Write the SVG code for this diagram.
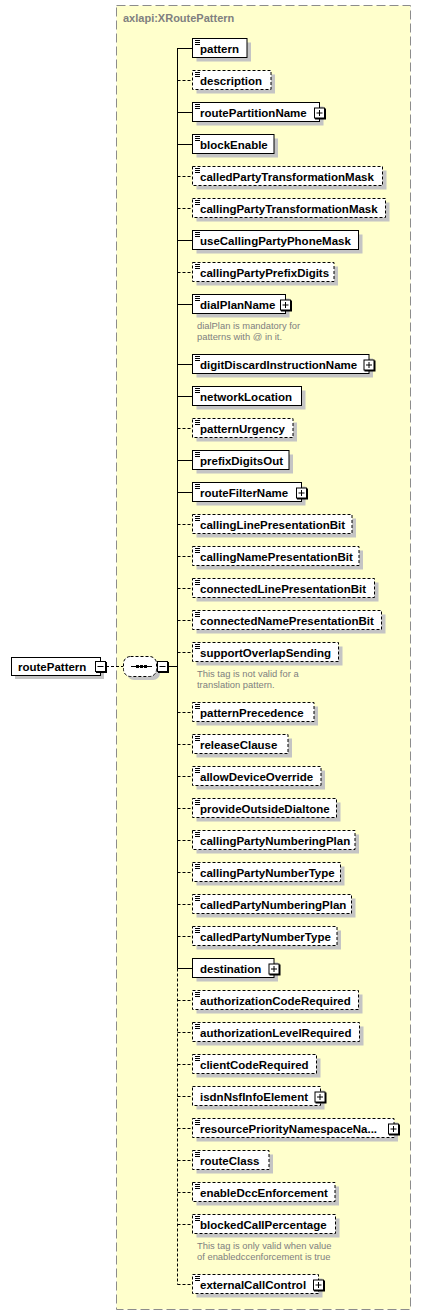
<svg xmlns="http://www.w3.org/2000/svg" width="422" height="1315" viewBox="0 0 422 1315">
<style>
.frame{fill:#ffffcc;stroke:#8c8c8c;stroke-width:1;stroke-dasharray:9,4}
.title{font-family:"Liberation Sans",Arial,sans-serif;font-weight:bold;font-size:11px;fill:#808080}
.sh{fill:#c4c4c4}
.box{fill:#ffffff;stroke:#000000;stroke-width:1}
.opt{stroke-dasharray:3,2}
.t{font-family:"Liberation Sans",Arial,sans-serif;font-weight:bold;font-size:11.5px;fill:#000000}
.ann{font-family:"Liberation Sans",Arial,sans-serif;font-size:9.4px;fill:#808080}
.ic{stroke:#000000;stroke-width:1}
.ln{stroke:#000000;stroke-width:1;fill:none}
.dl{stroke:#000000;stroke-width:1;fill:none;stroke-dasharray:3,2}
.pm{fill:#ffffff;stroke:#000000;stroke-width:1}
.pms{fill:#000000}
</style>
<defs>
<g id="icon"><line class="ic" x1="195" y1="0.5" x2="200" y2="0.5"/><line class="ic" x1="195" y1="2.5" x2="200" y2="2.5"/><line class="ic" x1="195" y1="4.5" x2="200" y2="4.5"/></g>
<g id="plus"><rect class="pms" x="1" y="1" width="11" height="11"/><rect class="pm" x="0.5" y="0.5" width="10" height="10"/><line class="ic" x1="2.5" y1="5.5" x2="8.5" y2="5.5"/><line class="ic" x1="5.5" y1="2.5" x2="5.5" y2="8.5"/></g>
<g id="minus"><rect class="pms" x="1" y="1" width="11" height="11"/><rect class="pm" x="0.5" y="0.5" width="10" height="10"/><line class="ic" x1="2.5" y1="5.5" x2="8.5" y2="5.5"/></g>
</defs>
<rect width="422" height="1315" fill="#ffffff"/>
<g id="type-frame">
<rect class="frame" x="116.5" y="5.5" width="294" height="1304"/>
<text class="title" x="123" y="22">axlapi:XRoutePattern</text>
</g>
<g id="connectors">
<line class="dl" x1="106" y1="666.5" x2="123" y2="666.5"/>
<line class="ln" x1="168" y1="666.5" x2="177.5" y2="666.5"/>
<line class="ln" x1="177.5" y1="48" x2="177.5" y2="968.5"/>
<line class="dl" x1="177.5" y1="968.5" x2="177.5" y2="1284.5"/>
<line class="ln" x1="177.5" y1="48.5" x2="192.5" y2="48.5"/>
<line class="dl" x1="177.5" y1="80.5" x2="192.5" y2="80.5"/>
<line class="ln" x1="177.5" y1="112.5" x2="192.5" y2="112.5"/>
<line class="ln" x1="177.5" y1="144.5" x2="192.5" y2="144.5"/>
<line class="dl" x1="177.5" y1="176.5" x2="192.5" y2="176.5"/>
<line class="dl" x1="177.5" y1="208.5" x2="192.5" y2="208.5"/>
<line class="ln" x1="177.5" y1="240.5" x2="192.5" y2="240.5"/>
<line class="dl" x1="177.5" y1="272.5" x2="192.5" y2="272.5"/>
<line class="ln" x1="177.5" y1="304.5" x2="192.5" y2="304.5"/>
<line class="ln" x1="177.5" y1="364.5" x2="192.5" y2="364.5"/>
<line class="ln" x1="177.5" y1="396.5" x2="192.5" y2="396.5"/>
<line class="dl" x1="177.5" y1="428.5" x2="192.5" y2="428.5"/>
<line class="ln" x1="177.5" y1="460.5" x2="192.5" y2="460.5"/>
<line class="ln" x1="177.5" y1="492.5" x2="192.5" y2="492.5"/>
<line class="dl" x1="177.5" y1="524.5" x2="192.5" y2="524.5"/>
<line class="dl" x1="177.5" y1="556.5" x2="192.5" y2="556.5"/>
<line class="dl" x1="177.5" y1="588.5" x2="192.5" y2="588.5"/>
<line class="dl" x1="177.5" y1="620.5" x2="192.5" y2="620.5"/>
<line class="dl" x1="177.5" y1="652.5" x2="192.5" y2="652.5"/>
<line class="dl" x1="177.5" y1="712.5" x2="192.5" y2="712.5"/>
<line class="dl" x1="177.5" y1="744.5" x2="192.5" y2="744.5"/>
<line class="dl" x1="177.5" y1="776.5" x2="192.5" y2="776.5"/>
<line class="dl" x1="177.5" y1="808.5" x2="192.5" y2="808.5"/>
<line class="dl" x1="177.5" y1="840.5" x2="192.5" y2="840.5"/>
<line class="dl" x1="177.5" y1="872.5" x2="192.5" y2="872.5"/>
<line class="dl" x1="177.5" y1="904.5" x2="192.5" y2="904.5"/>
<line class="dl" x1="177.5" y1="936.5" x2="192.5" y2="936.5"/>
<line class="ln" x1="177.5" y1="968.5" x2="192.5" y2="968.5"/>
<line class="dl" x1="177.5" y1="1000.5" x2="192.5" y2="1000.5"/>
<line class="dl" x1="177.5" y1="1032.5" x2="192.5" y2="1032.5"/>
<line class="dl" x1="177.5" y1="1064.5" x2="192.5" y2="1064.5"/>
<line class="dl" x1="177.5" y1="1096.5" x2="192.5" y2="1096.5"/>
<line class="dl" x1="177.5" y1="1128.5" x2="192.5" y2="1128.5"/>
<line class="dl" x1="177.5" y1="1160.5" x2="192.5" y2="1160.5"/>
<line class="dl" x1="177.5" y1="1192.5" x2="192.5" y2="1192.5"/>
<line class="dl" x1="177.5" y1="1224.5" x2="192.5" y2="1224.5"/>
<line class="dl" x1="177.5" y1="1284.5" x2="192.5" y2="1284.5"/>
</g>
<g id="routePattern">
<rect class="sh" x="15" y="661" width="89" height="18"/>
<rect class="box" x="11.5" y="657.5" width="89" height="18"/>
<text class="t" x="18" y="671">routePattern</text>
<use href="#minus" x="95" y="661"/>
</g>
<g id="sequence">
<rect class="sh" x="127" y="660" width="33" height="20" rx="7"/>
<rect class="box opt" x="123.5" y="656.5" width="33" height="20" rx="7"/>
<line class="ln" x1="131" y1="666.5" x2="152" y2="666.5"/>
<rect class="pms" x="136" y="665" width="3" height="3"/>
<rect class="pms" x="140" y="665" width="3" height="3"/>
<rect class="pms" x="144" y="665" width="3" height="3"/>
<use href="#minus" x="157" y="661"/>
</g>
<g id="pattern"><rect class="sh" x="196.5" y="42.5" width="54.5" height="19"/><rect class="box" x="192.5" y="38.5" width="54.5" height="19"/><use href="#icon" y="40"/><text class="t" x="200" y="52.5">pattern</text></g>
<g id="description"><rect class="sh" x="196.5" y="74.5" width="78.5" height="19"/><rect class="box opt" x="192.5" y="70.5" width="78.5" height="19"/><use href="#icon" y="72"/><text class="t" x="200" y="84.5">description</text></g>
<g id="routePartitionName"><rect class="sh" x="196.5" y="106.5" width="127" height="19"/><rect class="box" x="192.5" y="102.5" width="127" height="19"/><use href="#icon" y="104"/><text class="t" x="200" y="116.5">routePartitionName</text><use href="#plus" x="314" y="107.5"/></g>
<g id="blockEnable"><rect class="sh" x="196.5" y="138.5" width="81.5" height="19"/><rect class="box" x="192.5" y="134.5" width="81.5" height="19"/><use href="#icon" y="136"/><text class="t" x="200" y="148.5">blockEnable</text></g>
<g id="calledPartyTransformationMask"><rect class="sh" x="196.5" y="170.5" width="190" height="19"/><rect class="box opt" x="192.5" y="166.5" width="190" height="19"/><use href="#icon" y="168"/><text class="t" x="200" y="180.5">calledPartyTransformationMask</text></g>
<g id="callingPartyTransformationMask"><rect class="sh" x="196.5" y="202.5" width="193" height="19"/><rect class="box opt" x="192.5" y="198.5" width="193" height="19"/><use href="#icon" y="200"/><text class="t" x="200" y="212.5">callingPartyTransformationMask</text></g>
<g id="useCallingPartyPhoneMask"><rect class="sh" x="196.5" y="234.5" width="166" height="19"/><rect class="box" x="192.5" y="230.5" width="166" height="19"/><use href="#icon" y="232"/><text class="t" x="200" y="244.5">useCallingPartyPhoneMask</text></g>
<g id="callingPartyPrefixDigits"><rect class="sh" x="196.5" y="266.5" width="141.5" height="19"/><rect class="box opt" x="192.5" y="262.5" width="141.5" height="19"/><use href="#icon" y="264"/><text class="t" x="200" y="276.5">callingPartyPrefixDigits</text></g>
<g id="dialPlanName"><rect class="sh" x="196.5" y="298.5" width="93" height="19"/><rect class="box" x="192.5" y="294.5" width="93" height="19"/><use href="#icon" y="296"/><text class="t" x="200" y="308.5">dialPlanName</text><use href="#plus" x="280" y="299.5"/>
<text class="ann" x="197" y="328.5">dialPlan is mandatory for</text><text class="ann" x="197" y="339.5">patterns with @ in it.</text></g>
<g id="digitDiscardInstructionName"><rect class="sh" x="196.5" y="358.5" width="176.5" height="19"/><rect class="box" x="192.5" y="354.5" width="176.5" height="19"/><use href="#icon" y="356"/><text class="t" x="200" y="368.5">digitDiscardInstructionName</text><use href="#plus" x="363.5" y="359.5"/></g>
<g id="networkLocation"><rect class="sh" x="196.5" y="390.5" width="109" height="19"/><rect class="box" x="192.5" y="386.5" width="109" height="19"/><use href="#icon" y="388"/><text class="t" x="200" y="400.5">networkLocation</text></g>
<g id="patternUrgency"><rect class="sh" x="196.5" y="422.5" width="100.5" height="19"/><rect class="box opt" x="192.5" y="418.5" width="100.5" height="19"/><use href="#icon" y="420"/><text class="t" x="200" y="432.5">patternUrgency</text></g>
<g id="prefixDigitsOut"><rect class="sh" x="196.5" y="454.5" width="96.5" height="19"/><rect class="box" x="192.5" y="450.5" width="96.5" height="19"/><use href="#icon" y="452"/><text class="t" x="200" y="464.5">prefixDigitsOut</text></g>
<g id="routeFilterName"><rect class="sh" x="196.5" y="486.5" width="109" height="19"/><rect class="box" x="192.5" y="482.5" width="109" height="19"/><use href="#icon" y="484"/><text class="t" x="200" y="496.5">routeFilterName</text><use href="#plus" x="296" y="487.5"/></g>
<g id="callingLinePresentationBit"><rect class="sh" x="196.5" y="518.5" width="159.5" height="19"/><rect class="box opt" x="192.5" y="514.5" width="159.5" height="19"/><use href="#icon" y="516"/><text class="t" x="200" y="528.5">callingLinePresentationBit</text></g>
<g id="callingNamePresentationBit"><rect class="sh" x="196.5" y="550.5" width="166.5" height="19"/><rect class="box opt" x="192.5" y="546.5" width="166.5" height="19"/><use href="#icon" y="548"/><text class="t" x="200" y="560.5">callingNamePresentationBit</text></g>
<g id="connectedLinePresentationBit"><rect class="sh" x="196.5" y="582.5" width="182" height="19"/><rect class="box opt" x="192.5" y="578.5" width="182" height="19"/><use href="#icon" y="580"/><text class="t" x="200" y="592.5">connectedLinePresentationBit</text></g>
<g id="connectedNamePresentationBit"><rect class="sh" x="196.5" y="614.5" width="189" height="19"/><rect class="box opt" x="192.5" y="610.5" width="189" height="19"/><use href="#icon" y="612"/><text class="t" x="200" y="624.5">connectedNamePresentationBit</text></g>
<g id="supportOverlapSending"><rect class="sh" x="196.5" y="646.5" width="146" height="19"/><rect class="box opt" x="192.5" y="642.5" width="146" height="19"/><use href="#icon" y="644"/><text class="t" x="200" y="656.5">supportOverlapSending</text>
<text class="ann" x="197" y="676.5">This tag is not valid for a</text><text class="ann" x="197" y="687.5">translation pattern.</text></g>
<g id="patternPrecedence"><rect class="sh" x="196.5" y="706.5" width="121.5" height="19"/><rect class="box opt" x="192.5" y="702.5" width="121.5" height="19"/><use href="#icon" y="704"/><text class="t" x="200" y="716.5">patternPrecedence</text></g>
<g id="releaseClause"><rect class="sh" x="196.5" y="738.5" width="95.5" height="19"/><rect class="box opt" x="192.5" y="734.5" width="95.5" height="19"/><use href="#icon" y="736"/><text class="t" x="200" y="748.5">releaseClause</text></g>
<g id="allowDeviceOverride"><rect class="sh" x="196.5" y="770.5" width="128.5" height="19"/><rect class="box opt" x="192.5" y="766.5" width="128.5" height="19"/><use href="#icon" y="768"/><text class="t" x="200" y="780.5">allowDeviceOverride</text></g>
<g id="provideOutsideDialtone"><rect class="sh" x="196.5" y="802.5" width="144" height="19"/><rect class="box opt" x="192.5" y="798.5" width="144" height="19"/><use href="#icon" y="800"/><text class="t" x="200" y="812.5">provideOutsideDialtone</text></g>
<g id="callingPartyNumberingPlan"><rect class="sh" x="196.5" y="834.5" width="162.5" height="19"/><rect class="box opt" x="192.5" y="830.5" width="162.5" height="19"/><use href="#icon" y="832"/><text class="t" x="200" y="844.5">callingPartyNumberingPlan</text></g>
<g id="callingPartyNumberType"><rect class="sh" x="196.5" y="866.5" width="148" height="19"/><rect class="box opt" x="192.5" y="862.5" width="148" height="19"/><use href="#icon" y="864"/><text class="t" x="200" y="876.5">callingPartyNumberType</text></g>
<g id="calledPartyNumberingPlan"><rect class="sh" x="196.5" y="898.5" width="159" height="19"/><rect class="box opt" x="192.5" y="894.5" width="159" height="19"/><use href="#icon" y="896"/><text class="t" x="200" y="908.5">calledPartyNumberingPlan</text></g>
<g id="calledPartyNumberType"><rect class="sh" x="196.5" y="930.5" width="144.5" height="19"/><rect class="box opt" x="192.5" y="926.5" width="144.5" height="19"/><use href="#icon" y="928"/><text class="t" x="200" y="940.5">calledPartyNumberType</text></g>
<g id="destination"><rect class="sh" x="196.5" y="962.5" width="81.5" height="19"/><rect class="box" x="192.5" y="958.5" width="81.5" height="19"/><text class="t" x="200" y="972.5">destination</text><use href="#plus" x="268.5" y="963.5"/></g>
<g id="authorizationCodeRequired"><rect class="sh" x="196.5" y="994.5" width="166" height="19"/><rect class="box opt" x="192.5" y="990.5" width="166" height="19"/><use href="#icon" y="992"/><text class="t" x="200" y="1004.5">authorizationCodeRequired</text></g>
<g id="authorizationLevelRequired"><rect class="sh" x="196.5" y="1026.5" width="167" height="19"/><rect class="box opt" x="192.5" y="1022.5" width="167" height="19"/><use href="#icon" y="1024"/><text class="t" x="200" y="1036.5">authorizationLevelRequired</text></g>
<g id="clientCodeRequired"><rect class="sh" x="196.5" y="1058.5" width="124" height="19"/><rect class="box opt" x="192.5" y="1054.5" width="124" height="19"/><use href="#icon" y="1056"/><text class="t" x="200" y="1068.5">clientCodeRequired</text></g>
<g id="isdnNsfInfoElement"><rect class="sh" x="196.5" y="1090.5" width="128" height="19"/><rect class="box opt" x="192.5" y="1086.5" width="128" height="19"/><text class="t" x="200" y="1100.5">isdnNsfInfoElement</text><use href="#plus" x="314.5" y="1091.5"/></g>
<g id="resourcePriorityNamespaceName"><rect class="sh" x="196.5" y="1122.5" width="201.5" height="19"/><rect class="box opt" x="192.5" y="1118.5" width="201.5" height="19"/><use href="#icon" y="1120"/><text class="t" x="200" y="1132.5">resourcePriorityNamespaceNa...</text><use href="#plus" x="388" y="1123.5"/></g>
<g id="routeClass"><rect class="sh" x="196.5" y="1154.5" width="76.5" height="19"/><rect class="box opt" x="192.5" y="1150.5" width="76.5" height="19"/><use href="#icon" y="1152"/><text class="t" x="200" y="1164.5">routeClass</text></g>
<g id="enableDccEnforcement"><rect class="sh" x="196.5" y="1186.5" width="142.5" height="19"/><rect class="box opt" x="192.5" y="1182.5" width="142.5" height="19"/><use href="#icon" y="1184"/><text class="t" x="200" y="1196.5">enableDccEnforcement</text></g>
<g id="blockedCallPercentage"><rect class="sh" x="196.5" y="1218.5" width="143" height="19"/><rect class="box opt" x="192.5" y="1214.5" width="143" height="19"/><use href="#icon" y="1216"/><text class="t" x="200" y="1228.5">blockedCallPercentage</text>
<text class="ann" x="197" y="1249">This tag is only valid when value</text><text class="ann" x="197" y="1259.5">of enabledccenforcement is true</text></g>
<g id="externalCallControl"><rect class="sh" x="196.5" y="1278.5" width="126" height="19"/><rect class="box opt" x="192.5" y="1274.5" width="126" height="19"/><use href="#icon" y="1276"/><text class="t" x="200" y="1288.5">externalCallControl</text><use href="#plus" x="313" y="1279.5"/></g>
</svg>
